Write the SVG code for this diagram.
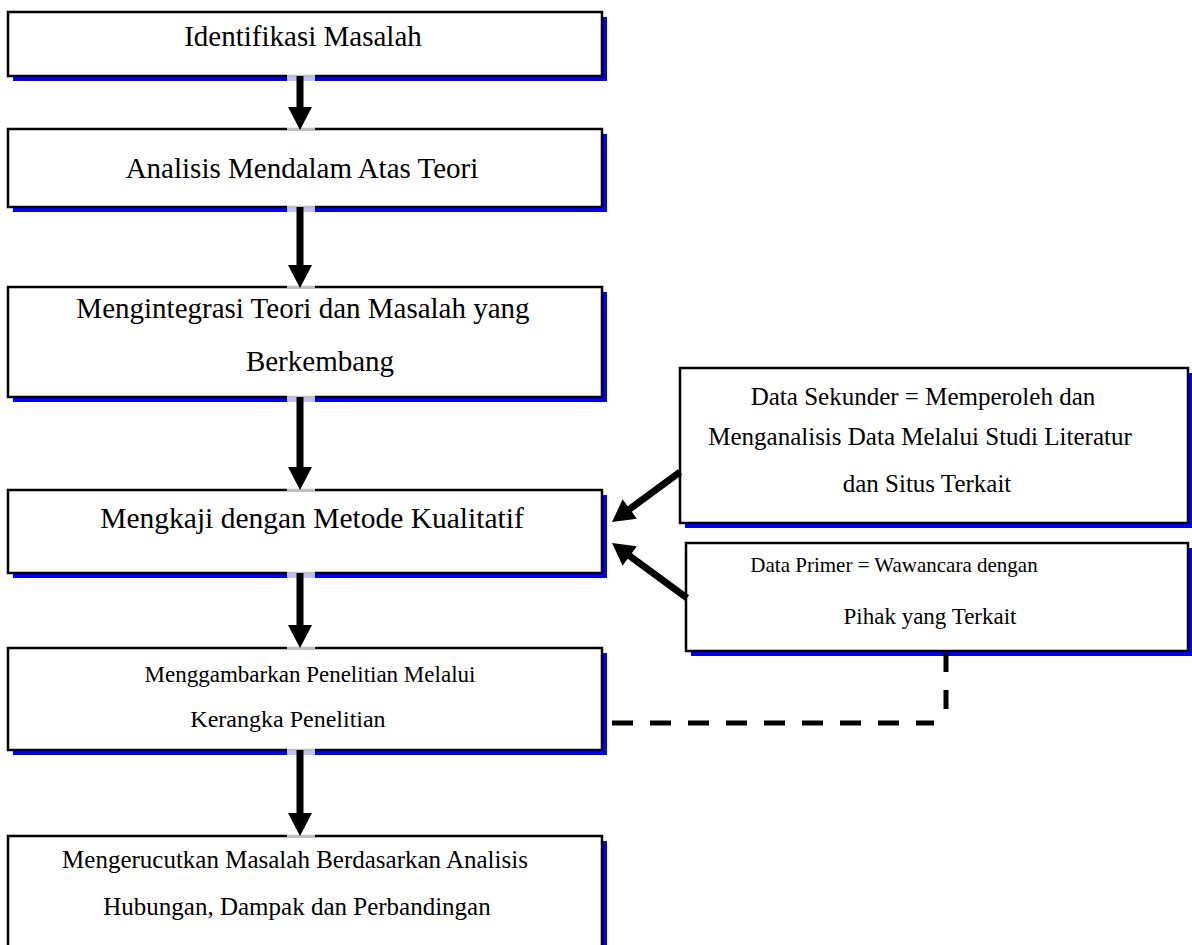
<svg xmlns="http://www.w3.org/2000/svg" width="1192" height="945" viewBox="0 0 1192 945">
<style>
.box{fill:#fff;stroke:#000;stroke-width:2.5}
.sh{fill:#0000ff}
.t{font-family:"Liberation Serif","Times New Roman",serif;fill:#000;text-anchor:middle}
.big{font-size:29px}
.mid{font-size:25px}
.sm{font-size:23px}
.xs{font-size:21px}
.arr{fill:#000}
.cov{fill:#fff;opacity:0.75}
.dash{fill:none;stroke:#000;stroke-width:5}
</style>
<rect width="1192" height="945" fill="#fff"/>
<g id="n1">
<rect class="sh" x="13" y="17" width="594" height="64"/>
<rect class="box" x="8" y="12" width="594" height="64"/>
<text class="t big" x="303" y="46">Identifikasi Masalah</text>
</g>
<g id="n2">
<rect class="sh" x="13" y="134" width="594" height="78"/>
<rect class="box" x="8" y="129" width="594" height="78"/>
<text class="t big" x="302" y="178">Analisis Mendalam Atas Teori</text>
</g>
<g id="n3">
<rect class="sh" x="13" y="292" width="594" height="110"/>
<rect class="box" x="8" y="287" width="594" height="110"/>
<text class="t big" x="303" y="318">Mengintegrasi Teori dan Masalah yang</text>
<text class="t big" x="320" y="371">Berkembang</text>
</g>
<g id="n4">
<rect class="sh" x="13" y="495" width="594" height="83"/>
<rect class="box" x="8" y="490" width="594" height="83"/>
<text class="t big" x="312" y="528" style="font-size:29.5px">Mengkaji dengan Metode Kualitatif</text>
</g>
<g id="n5">
<rect class="sh" x="13" y="653" width="594" height="102"/>
<rect class="box" x="8" y="648" width="594" height="102"/>
<text class="t sm" x="310" y="682">Menggambarkan Penelitian Melalui</text>
<text class="t sm" x="288" y="727" style="font-size:24px">Kerangka Penelitian</text>
</g>
<g id="n6">
<rect class="sh" x="13" y="841" width="594" height="120"/>
<rect class="box" x="8" y="836" width="594" height="120"/>
<text class="t mid" x="295" y="868">Mengerucutkan Masalah Berdasarkan Analisis</text>
<text class="t mid" x="297" y="915">Hubungan, Dampak dan Perbandingan</text>
</g>
<g id="n7">
<rect class="sh" x="685" y="373" width="508" height="155"/>
<rect class="box" x="680" y="368" width="508" height="155"/>
<text class="t mid" x="923" y="405">Data Sekunder = Memperoleh dan</text>
<text class="t mid" x="920" y="445">Menganalisis Data Melalui Studi Literatur</text>
<text class="t mid" x="927" y="492">dan Situs Terkait</text>
</g>
<g id="n8">
<rect class="sh" x="691" y="548" width="502" height="108"/>
<rect class="box" x="686" y="543" width="502" height="108"/>
<text class="t xs" x="894" y="572">Data Primer = Wawancara dengan</text>
<text class="t xs" x="930" y="624" style="font-size:23px">Pihak yang Terkait</text>
</g>
<g id="connectors">
<rect class="cov" x="287" y="74" width="28" height="56"/>
<path class="arr" d="M296.5 76 H303.5 V107 H312 L300 130 L288 107 H296.5 Z"/>
<rect class="cov" x="287" y="205" width="28" height="83"/>
<path class="arr" d="M296.5 207 H303.5 V265 H312 L300 288 L288 265 H296.5 Z"/>
<rect class="cov" x="287" y="395" width="28" height="96"/>
<path class="arr" d="M296.5 397 H303.5 V467 H312 L300 490 L288 467 H296.5 Z"/>
<rect class="cov" x="287" y="571" width="28" height="78"/>
<path class="arr" d="M296.5 573 H303.5 V625 H312 L300 648 L288 625 H296.5 Z"/>
<rect class="cov" x="287" y="748" width="28" height="89"/>
<path class="arr" d="M296.5 750 H303.5 V813 H312 L300 836 L288 813 H296.5 Z"/>
<polygon class="arr" points="682.1,474.8 631.8,511.8 636.8,518.7 612,522 622.6,499.3 627.6,506.2 677.9,469.2"/>
<polygon class="arr" points="689.1,595.2 631.8,553.2 636.8,546.3 612,543 622.6,565.7 627.6,558.8 684.9,600.8"/>
<path class="dash" d="M946 653 V712" stroke-dasharray="19 18"/>
<path class="dash" d="M612 723 H934" stroke-dasharray="21 17"/>
</g>
</svg>
